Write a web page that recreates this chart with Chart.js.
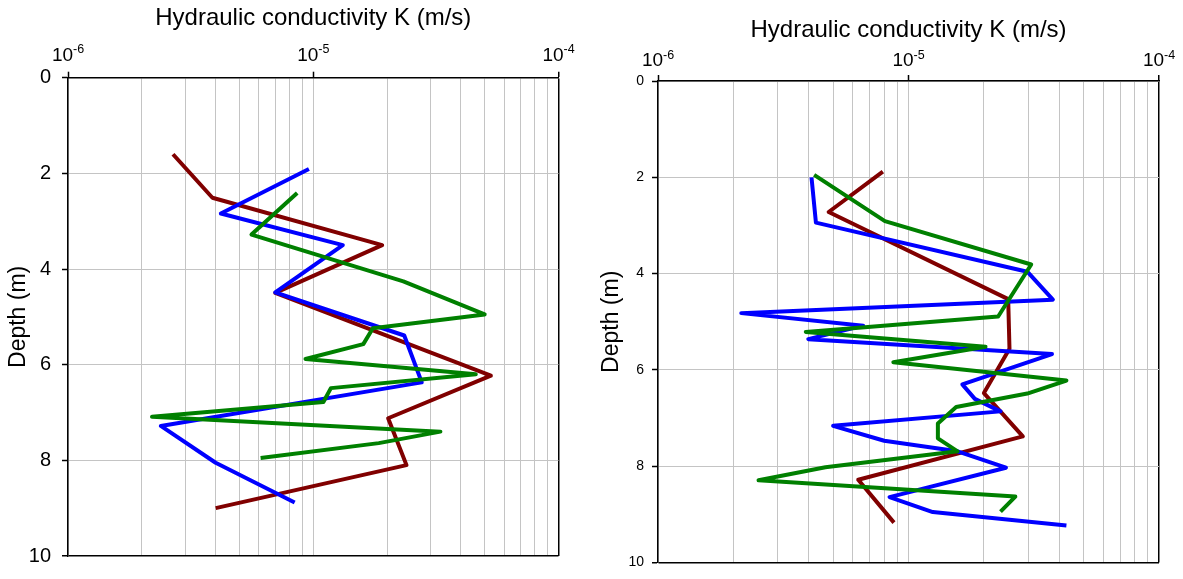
<!DOCTYPE html>
<html>
<head>
<meta charset="utf-8">
<script src="https://cdn.jsdelivr.net/npm/chart.js@4.4.1/dist/chart.umd.min.js"></script>
<style>
  html, body { margin: 0; padding: 0; background: #fff; }
  #wrap { position: relative; width: 1183px; height: 579px; overflow: hidden; }
  #cL { position: absolute; left: 0; top: 0; }
  #cR { position: absolute; left: 590px; top: 0; }
</style>
</head>
<body>
<div id="wrap">
  <canvas id="cL" width="590" height="579"></canvas>
  <canvas id="cR" width="593" height="579"></canvas>
</div>
<script>
// ---------- data (depth in m, hydraulic conductivity K in m/s) ----------
const xTickValues = [1e-6,2e-6,3e-6,4e-6,5e-6,6e-6,7e-6,8e-6,9e-6,
                     1e-5,2e-5,3e-5,4e-5,5e-5,6e-5,7e-5,8e-5,9e-5,1e-4];
const xDecades = [1e-6, 1e-5, 1e-4];
const xDecadeBase = ['10', '10', '10'];
const xDecadeExp = ['-6', '-5', '-4'];
const yTickValues = [0, 2, 4, 6, 8, 10];

const xTitle = 'Hydraulic conductivity K (m/s)';
const yTitle = 'Depth (m)';

// Left panel
const leftRedDepth = [1.60, 2.51, 3.50, 4.50, 6.23, 7.12, 8.10, 9.00];
const leftRedK     = [2.68e-6, 3.88e-6, 1.91e-5, 7.0e-6, 5.3e-5, 2.02e-5, 2.4e-5, 4.0e-6];

const leftBlueDepth = [1.91, 2.84, 3.50, 4.49, 5.39, 6.37, 7.28, 8.05, 8.88];
const leftBlueK     = [9.6e-6, 4.2e-6, 1.32e-5, 7.0e-6, 2.35e-5, 2.77e-5, 2.39e-6, 4.0e-6, 8.4e-6];

const leftGreenDepth = [2.41, 3.28, 4.26, 4.95, 5.24, 5.57, 5.88, 6.20, 6.49, 6.78, 7.09, 7.40, 7.64, 7.95];
const leftGreenK     = [8.6e-6, 5.6e-6, 2.33e-5, 5.0e-5, 1.75e-5, 1.6e-5, 9.3e-6, 4.6e-5, 1.18e-5, 1.1e-5, 2.2e-6, 3.3e-5, 1.85e-5, 6.1e-6];

// Right panel
const rightRedDepth = [1.88, 2.72, 4.53, 5.56, 6.48, 7.38, 8.28, 9.17];
const rightRedK     = [7.9e-6, 4.8e-6, 2.5e-5, 2.53e-5, 2.0e-5, 2.86e-5, 6.3e-6, 8.75e-6];

const rightBlueDepth = [2.00, 2.94, 3.96, 4.54, 4.82, 5.08, 5.36, 5.67, 6.30, 6.60, 6.86, 7.16, 7.47, 7.69, 8.03, 8.64, 8.95, 9.23];
const rightBlueK     = [4.1e-6, 4.27e-6, 2.98e-5, 3.77e-5, 2.15e-6, 6.6e-6, 3.98e-6, 3.74e-5, 1.64e-5, 1.84e-5, 2.33e-5, 5.0e-6, 8.0e-6, 1.57e-5, 2.45e-5, 8.4e-6, 1.25e-5, 4.27e-5];

const rightGreenDepth = [1.95, 2.91, 3.81, 4.89, 5.21, 5.52, 5.84, 6.22, 6.49, 6.77, 7.11, 7.42, 7.69, 8.02, 8.29, 8.63, 8.94];
const rightGreenK     = [4.2e-6, 8.05e-6, 3.09e-5, 2.28e-5, 3.89e-6, 2.03e-5, 8.7e-6, 4.27e-5, 2.98e-5, 1.55e-5, 1.31e-5, 1.31e-5, 1.57e-5, 4.66e-6, 2.52e-6, 2.67e-5, 2.33e-5];

// ---------- chart construction ----------
const FONT = '"Liberation Sans", Arial, Helvetica, sans-serif';
const RED = '#800000', BLUE = '#0000ff', GREEN = '#008000';
const GRID = '#c4c4c4';

function pts(ks, ds) { return ks.map((k, i) => ({ x: k, y: ds[i] })); }
function isDecade(v) { return xDecades.some(d => Math.abs(v / d - 1) < 1e-6); }

// Draws the decade labels of the top log axis as "10" with a raised exponent,
// positioned by the x scale itself.
const powerLabels = {
  id: 'powerLabels',
  afterDraw(chart, args, o) {
    const s = chart.scales.x;
    const ctx = chart.ctx;
    ctx.save();
    ctx.fillStyle = '#000';
    ctx.textBaseline = 'alphabetic';
    ctx.textAlign = 'left';
    xDecades.forEach((v, i) => {
      const px = s.getPixelForValue(v);
      ctx.font = o.baseSize + 'px ' + FONT;
      const wb = ctx.measureText(xDecadeBase[i]).width;
      ctx.font = o.expSize + 'px ' + FONT;
      const we = ctx.measureText(xDecadeExp[i]).width;
      const x0 = px - (wb + we) / 2;
      const base = s.bottom - o.gap;
      ctx.font = o.baseSize + 'px ' + FONT;
      ctx.fillText(xDecadeBase[i], x0, base);
      ctx.font = o.expSize + 'px ' + FONT;
      ctx.fillText(xDecadeExp[i], x0 + wb, base - o.raise);
    });
    ctx.restore();
  }
};

function makePanel(canvasId, series, g) {
  const datasets = series.map(s => ({
    data: pts(s.k, s.d),
    borderColor: s.color,
    backgroundColor: s.color,
    borderWidth: 4,
    showLine: true,
    pointRadius: 0,
    pointHoverRadius: 0,
    fill: false,
    tension: 0,
    borderJoinStyle: 'round',
    borderCapStyle: 'butt',
    order: s.order
  }));
  return new Chart(document.getElementById(canvasId), {
    type: 'scatter',
    data: { datasets },
    plugins: [powerLabels],
    options: {
      responsive: false,
      animation: false,
      devicePixelRatio: 1,
      layout: { padding: { left: 0, top: 0, right: g.padRight, bottom: g.padBottom } },
      plugins: {
        legend: { display: false },
        tooltip: { enabled: false },
        powerLabels: { baseSize: g.xTickSize, expSize: g.xExpSize, gap: g.xLabelGap, raise: g.xExpRaise }
      },
      scales: {
        x: {
          type: 'logarithmic',
          position: 'top',
          min: 1e-6, max: 1e-4,
          afterFit: s => { s.height = g.topH; },
          afterBuildTicks: s => { s.ticks = xTickValues.map(v => ({ value: v, major: isDecade(v) })); },
          ticks: { display: false, autoSkip: false, maxRotation: 0, minRotation: 0 },
          grid: {
            color: c => (c.tick && Math.abs(c.tick.value / 1e-4 - 1) < 1e-6) ? '#000' : GRID,
            lineWidth: c => (c.tick && Math.abs(c.tick.value / 1e-4 - 1) < 1e-6) ? 1.5 : 1,
            tickColor: c => (c.tick && isDecade(c.tick.value)) ? '#000' : 'rgba(0,0,0,0)',
            tickLength: 6,
            tickWidth: 1.5,
            drawTicks: true
          },
          border: { display: true, color: '#000', width: 1.5 },
          title: {
            display: true, text: xTitle, color: '#000',
            font: { family: FONT, size: g.titleSize },
            padding: { top: g.titlePadTop, bottom: 0 }
          }
        },
        y: {
          type: 'linear',
          reverse: true,
          min: 0, max: 10,
          afterFit: s => { s.width = g.leftW; },
          afterBuildTicks: s => { s.ticks = yTickValues.map(v => ({ value: v })); },
          ticks: {
            color: '#000',
            padding: g.yTickPad,
            font: { family: FONT, size: g.yTickSize }
          },
          grid: {
            color: c => (c.tick && c.tick.value === 10) ? '#000' : GRID,
            lineWidth: c => (c.tick && c.tick.value === 10) ? 1.5 : 1,
            tickColor: '#000',
            tickLength: 6,
            tickWidth: 1.5
          },
          border: { display: true, color: '#000', width: 1.5 },
          title: {
            display: true, text: yTitle, color: '#000',
            font: { family: FONT, size: g.yTitleSize },
            padding: { top: g.yTitlePadTop, bottom: 0 }
          }
        }
      }
    }
  });
}

makePanel('cL', [
  { k: leftRedK,   d: leftRedDepth,   color: RED,   order: 3 },
  { k: leftBlueK,  d: leftBlueDepth,  color: BLUE,  order: 2 },
  { k: leftGreenK, d: leftGreenDepth, color: GREEN, order: 1 }
], { padRight: 31.5, padBottom: 14, topH: 77.7, leftW: 68,
     xTickSize: 19, xExpSize: 12.5, xLabelGap: 17, xExpRaise: 7.5,
     titleSize: 24, titlePadTop: 4, yTickPad: 11, yTickSize: 20, yTitleSize: 23, yTitlePadTop: 5 });

makePanel('cR', [
  { k: rightRedK,   d: rightRedDepth,   color: RED,   order: 3 },
  { k: rightBlueK,  d: rightBlueDepth,  color: BLUE,  order: 2 },
  { k: rightGreenK, d: rightGreenDepth, color: GREEN, order: 1 }
], { padRight: 24, padBottom: 14, topH: 81, leftW: 68,
     xTickSize: 19, xExpSize: 12.5, xLabelGap: 15, xExpRaise: 7.5,
     titleSize: 24, titlePadTop: 16, yTickPad: 8, yTickSize: 14, yTitleSize: 23, yTitlePadTop: 8 });
</script>
</body>
</html>
